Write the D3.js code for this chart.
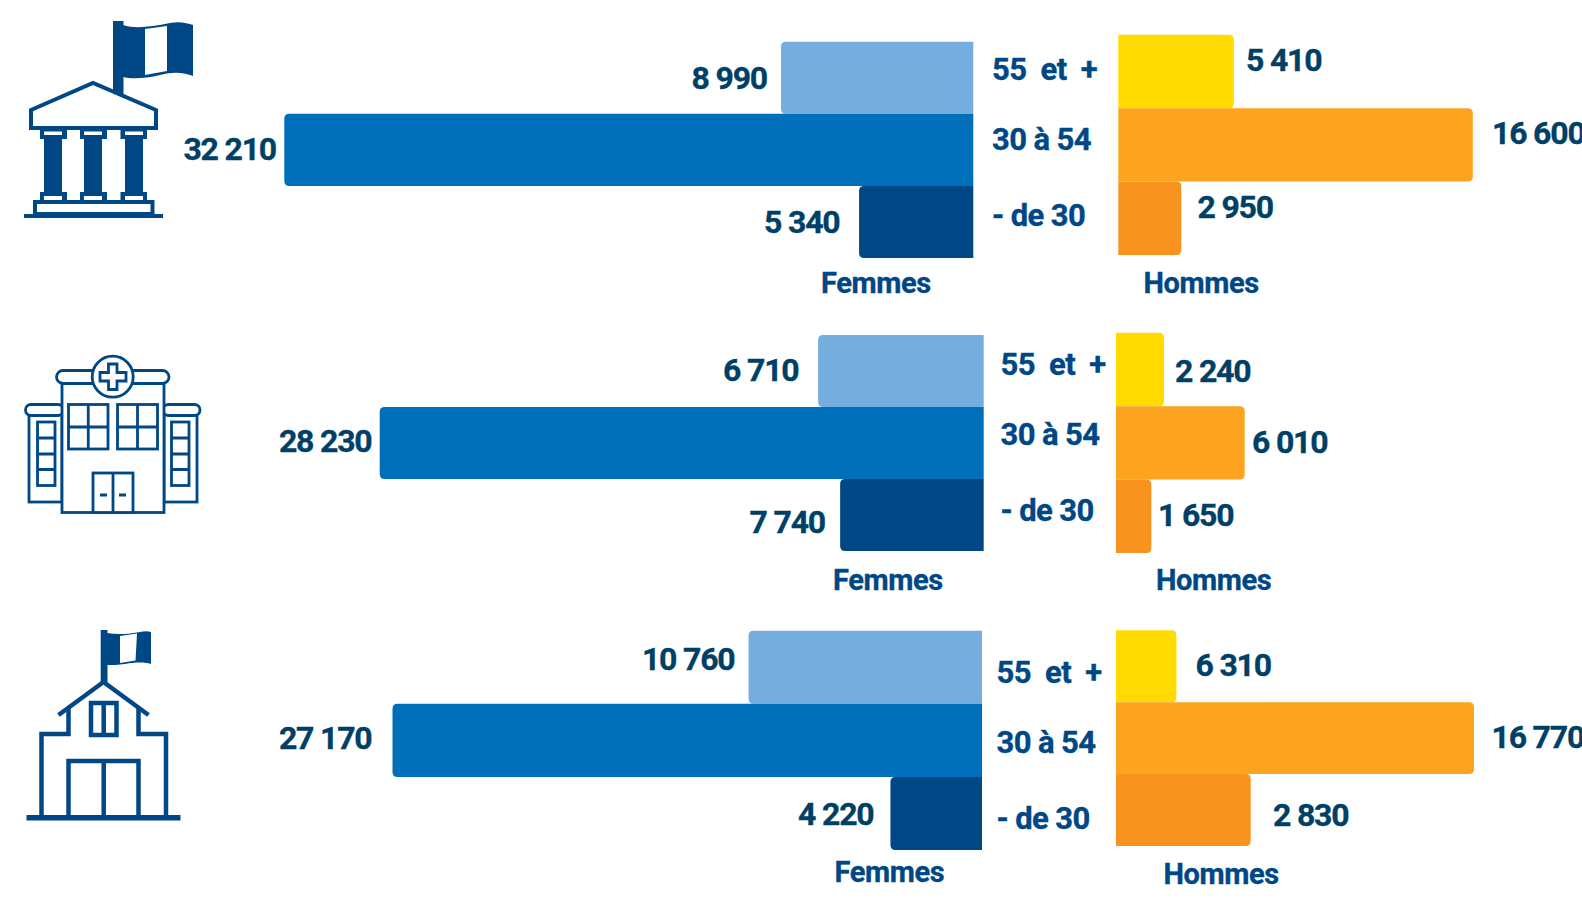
<!DOCTYPE html>
<html lang="fr">
<head>
<meta charset="utf-8">
<title>Effectifs par âge et par sexe</title>
<script src="https://d3js.org/d3.v7.min.js"></script>
<style>
    body { margin: 0; background: #fff; }
    svg { display: block; }
    text { font-family: Roboto, "Open Sans", sans-serif; font-weight: 700; stroke-width: 0.35px; }
    .value { font-size: 32px; letter-spacing: -1.2px; fill: #003f66; stroke: #003f66; }
    .age { font-size: 31px; letter-spacing: -0.6px; fill: #004785; stroke: #004785; }
    .sex { font-size: 29px; letter-spacing: -0.4px; fill: #004785; stroke: #004785; }
</style>
</head>
<body>
<svg id="chart" width="1582" height="900"></svg>
<script>
const ageGroups = ["55 et +", "30 à 54", "- de 30"];
const sexLabels = ["Femmes", "Hommes"];

const femmesEtat = [8990, 32210, 5340];
const hommesEtat = [5410, 16600, 2950];
const femmesHospitaliere = [6710, 28230, 7740];
const hommesHospitaliere = [2240, 6010, 1650];
const femmesTerritoriale = [10760, 27170, 4220];
const hommesTerritoriale = [6310, 16770, 2830];

const femmesColors = ["#75addf", "#006fb9", "#004785"];
const hommesColors = ["#ffdb00", "#fca31f", "#f7931e"];

// the source picture has two panels where the short bars are swapped against their labels
const panels = [
    {
        femmes: femmesEtat, hommes: hommesEtat,
        f: { base: 973.3, width: 689, top: 41.7, bottom: 258, order: [0, 1, 2] },
        h: { base: 1118.3, width: 354.5, top: 34.7, bottom: 255, order: [0, 1, 2] },
        fLabels: [[767, 88.5], [276, 160], [839.5, 232.5]],
        hLabels: [[1246, 70.5], [1492, 144], [1197.5, 217.5]],
        ageX: 992, ageY: [79.5, 149.5, 225.5],
        sexPos: [[821, 292.5], [1143.5, 292.5]]
    },
    {
        femmes: femmesHospitaliere, hommes: hommesHospitaliere,
        f: { base: 983.7, width: 604, top: 335, bottom: 551, order: [2, 1, 0] },
        h: { base: 1116, width: 128.7, top: 332.7, bottom: 553, order: [0, 1, 2] },
        fLabels: [[798.5, 381], [371.5, 451.5], [825, 532.5]],
        hLabels: [[1175, 381.5], [1252, 453], [1158, 525.5]],
        ageX: 1000.5, ageY: [374.5, 444.5, 520.5],
        sexPos: [[833, 590], [1156, 590]]
    },
    {
        femmes: femmesTerritoriale, hommes: hommesTerritoriale,
        f: { base: 982, width: 589.5, top: 630.7, bottom: 850, order: [0, 1, 2] },
        h: { base: 1116, width: 358, top: 630.3, bottom: 846, order: [2, 1, 0] },
        fLabels: [[734.5, 670], [371.5, 748.5], [873.5, 825]],
        hLabels: [[1195.5, 675.5], [1491.5, 748], [1273, 825.5]],
        ageX: 996.5, ageY: [682.5, 752.5, 829],
        sexPos: [[834.5, 881.5], [1163.5, 884]]
    }
];

const svg = d3.select("#chart");
const iconColor = "#004785";
const formatValue = d3.formatLocale({ thousands: "\u00a0", grouping: [3], decimal: ",", currency: ["", ""] }).format(",d");

// bar with rounded corners on its outer end only, dir = -1 grows left, 1 grows right
function barPath(base, len, y, h, dir) {
    const r = Math.min(5, len);
    const end = base + dir * len;
    const p = d3.path();
    p.moveTo(base, y);
    p.lineTo(end - dir * r, y);
    p.quadraticCurveTo(end, y, end, y + r);
    p.lineTo(end, y + h - r);
    p.quadraticCurveTo(end, y + h, end - dir * r, y + h);
    p.lineTo(base, y + h);
    p.closePath();
    return p.toString();
}

function drawSide(g, values, side, colors, dir) {
    const x = d3.scaleLinear().domain([0, d3.max(values)]).range([0, side.width]);
    const y = d3.scaleBand().domain(d3.range(values.length)).range([side.top, side.bottom]);
    g.append("g").selectAll("path")
        .data(side.order)
        .join("path")
        .attr("d", (valueIndex, i) => barPath(side.base, x(values[valueIndex]), y(i), y.bandwidth(), dir))
        .attr("fill", (valueIndex, i) => colors[i]);
}

panels.forEach(panel => {
    const g = svg.append("g");
    drawSide(g, panel.femmes, panel.f, femmesColors, -1);
    drawSide(g, panel.hommes, panel.h, hommesColors, 1);

    g.append("g").selectAll("text")
        .data(panel.femmes)
        .join("text")
        .attr("class", "value")
        .attr("text-anchor", "end")
        .attr("x", (d, i) => panel.fLabels[i][0])
        .attr("y", (d, i) => panel.fLabels[i][1])
        .text(formatValue);

    g.append("g").selectAll("text")
        .data(panel.hommes)
        .join("text")
        .attr("class", "value")
        .attr("x", (d, i) => panel.hLabels[i][0])
        .attr("y", (d, i) => panel.hLabels[i][1])
        .text(formatValue);

    g.append("g").selectAll("text")
        .data(ageGroups)
        .join("text")
        .attr("class", "age")
        .attr("x", panel.ageX)
        .attr("y", (d, i) => panel.ageY[i])
        .attr("xml:space", "preserve")
        .style("white-space", "pre")
        .text(d => d.replace("55 et +", "55  et  +"));

    g.append("g").selectAll("text")
        .data(sexLabels)
        .join("text")
        .attr("class", "sex")
        .attr("x", (d, i) => panel.sexPos[i][0])
        .attr("y", (d, i) => panel.sexPos[i][1])
        .text(d => d);
});

// icons
function box(g, x0, y0, x1, y1, sw) {
    return g.append("rect").attr("x", x0).attr("y", y0).attr("width", x1 - x0).attr("height", y1 - y0)
        .attr("fill", "#fff").attr("stroke", iconColor).attr("stroke-width", sw);
}
function solid(g, x0, y0, x1, y1, fill) {
    return g.append("rect").attr("x", x0).attr("y", y0).attr("width", x1 - x0).attr("height", y1 - y0)
        .attr("fill", fill || iconColor);
}
function stroke(g, d, sw, fill) {
    return g.append("path").attr("d", d).attr("fill", fill || "none")
        .attr("stroke", iconColor).attr("stroke-width", sw);
}
function fillPath(g, d, fill) {
    return g.append("path").attr("d", d).attr("fill", fill || iconColor);
}

// temple
const temple = svg.append("g");
solid(temple, 113, 21, 123.5, 98);
fillPath(temple, "M123,25 C135,29 150,27 170,23 C180,21 187,23 193,25 L193,76 C185,73 175,71 160,75 C145,79 130,79 123,77 Z");
fillPath(temple, "M145,29 L167,26 L167,71 L145,75 Z", "#fff");
stroke(temple, "M31,110 L93,83 L156,110 L156,128 L31,128 Z", 4, "#fff");
[[40, 44, 62, 67], [80, 84, 102, 107], [120.5, 125, 143, 147]].forEach(c => {
    solid(temple, c[1], 136, c[2], 192);
    solid(temple, c[0], 130, c[3], 139);
    solid(temple, c[1], 131.5, c[2], 135, "#fff");
    solid(temple, c[0], 192, c[3], 201);
    solid(temple, c[1], 196, c[2], 200, "#fff");
});
box(temple, 35, 202, 152.5, 214, 4);
solid(temple, 24, 214, 163, 218);

// hospital
const hospital = svg.append("g");
const hs = 2.8;
box(hospital, 29, 414, 62, 502, hs);
box(hospital, 164, 414, 197, 502, hs);
hospital.append("rect").attr("x", 25.5).attr("y", 404.5).attr("width", 38).attr("height", 11).attr("rx", 5.5)
    .attr("fill", "#fff").attr("stroke", iconColor).attr("stroke-width", hs);
hospital.append("rect").attr("x", 163).attr("y", 404.5).attr("width", 37).attr("height", 11).attr("rx", 5.5)
    .attr("fill", "#fff").attr("stroke", iconColor).attr("stroke-width", hs);
box(hospital, 62, 383, 164, 512.5, hs);
hospital.append("rect").attr("x", 56.5).attr("y", 370.5).attr("width", 112.5).attr("height", 13).attr("rx", 6.5)
    .attr("fill", "#fff").attr("stroke", iconColor).attr("stroke-width", hs);
hospital.append("circle").attr("cx", 112.7).attr("cy", 376.7).attr("r", 20.5)
    .attr("fill", "#fff").attr("stroke", iconColor).attr("stroke-width", hs);
stroke(hospital, "M108.5,364 H117 V372.5 H126 V381 H117 V389.5 H108.5 V381 H100 V372.5 H108.5 Z", hs);
[37.5, 171.5].forEach(x0 => {
    box(hospital, x0, 422, x0 + 17.5, 485.5, hs);
    stroke(hospital, `M${x0},438 h17.5 M${x0},454 h17.5 M${x0},469.5 h17.5`, hs);
});
[[68.5, 108], [117.5, 157.5]].forEach(w => {
    box(hospital, w[0], 404.5, w[1], 449, hs);
    const mid = (w[0] + w[1]) / 2;
    stroke(hospital, `M${mid},404.5 V449 M${w[0]},427 H${w[1]}`, hs);
});
box(hospital, 93, 473, 133, 512.5, hs);
stroke(hospital, "M113,473 V512.5 M100,495 h7 M119,495 h7", hs);

// school
const school = svg.append("g");
const ss = 4.5;
solid(school, 100.7, 630, 107.5, 682);
fillPath(school, "M107,633 C118,635 130,634 140,632 C144,631 148,631 151,632 L151,664 C145,662 135,662 125,664 C118,665 112,665 107,665 Z");
fillPath(school, "M120,636 L137,633.5 L135.5,660.5 L120,663 Z", "#fff");
stroke(school, "M58.5,715 L103.5,682 L148.5,715", ss);
stroke(school, "M68.5,708 V734 H41.5 V817 M138.5,708 V734 H166 V817", ss);
stroke(school, "M91,703 H116.5 V735 H91 Z M103.7,703 V735", ss);
stroke(school, "M68.5,817 V761 H138.5 V817 M103.7,761 V817", ss);
solid(school, 26.5, 815, 180.5, 820.5);
</script>
</body>
</html>
